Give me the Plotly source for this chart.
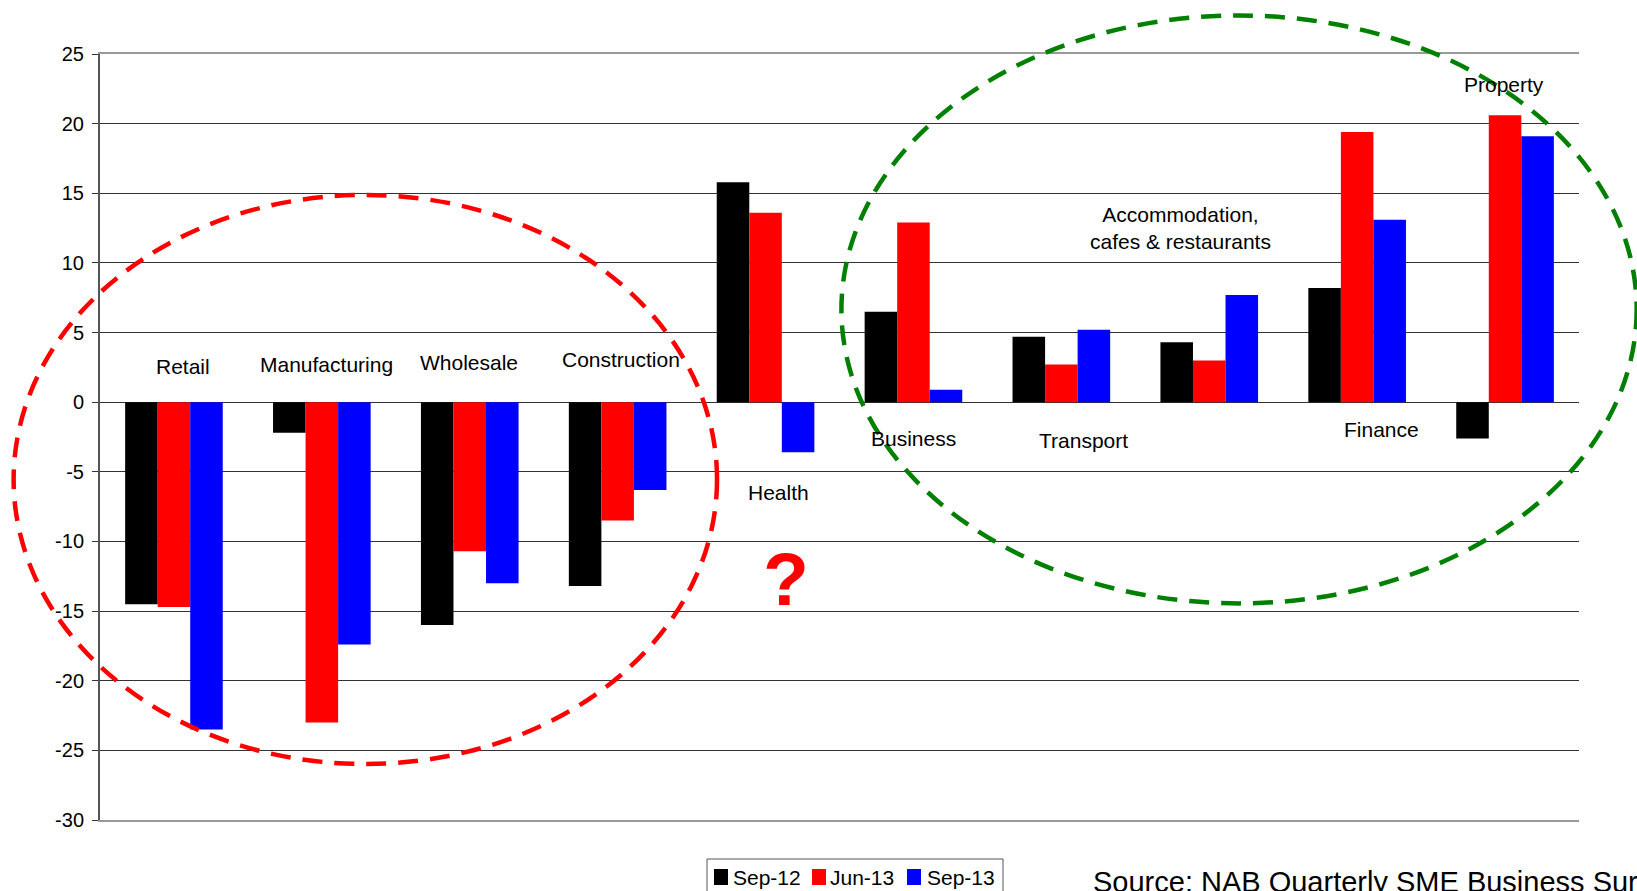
import plotly.graph_objects as go

# Industry categories (drawn as text labels next to each bar group)
industries = ["Retail", "Manufacturing", "Wholesale", "Construction", "Health",
              "Business", "Transport", "Accommodation, cafes & restaurants",
              "Finance", "Property"]

# Survey readings by quarter
sep_12 = [-14.5, -2.2, -16.0, -13.2, 15.8, 6.5, 4.7, 4.3, 8.2, -2.6]
jun_13 = [-14.7, -23.0, -10.7, -8.5, 13.6, 12.9, 2.7, 3.0, 19.4, 20.6]
sep_13 = [-23.5, -17.4, -13.0, -6.3, -3.6, 0.9, 5.2, 7.7, 13.1, 19.1]

series_names = ["Sep-12", "Jun-13", "Sep-13"]
series_colors = ["#000000", "#FF0000", "#0000FF"]

y_ticks = [25, 20, 15, 10, 5, 0, -5, -10, -15, -20, -25, -30]

# Label text and placement (category index offset, value position)
label_text = ["Retail", "Manufacturing", "Wholesale", "Construction", "Health",
              "Business", "Transport", "Accommodation,<br>cafes & restaurants",
              "Finance", "Property"]
label_x = [0.059, 1.033, 1.993, 3.024, 4.09, 5.0, 6.15, 6.808, 8.163, 8.996]
label_y = [2.56, 2.70, 2.85, 3.08, -6.52, -2.62, -2.77, 12.49, -1.94, 22.78]

FONT = "Liberation Sans, Arial, sans-serif"

# Figure geometry (pixels) used to place paper-referenced decorations
W, H = 1637, 891
ML, MR, MT, MB = 100, 58, 54, 71
PW, PH = W - ML - MR, H - MT - MB


def px_x(px):
    return (px - ML) / PW


def px_y(py):
    return (H - MB - py) / PH


fig = go.Figure()
xs = list(range(len(industries)))
for name, vals, col in zip(series_names, [sep_12, jun_13, sep_13], series_colors):
    fig.add_trace(go.Bar(
        x=xs, y=vals, name=name, marker_color=col,
        marker_line_width=0, hovertext=industries, showlegend=False,
    ))

annotations = []
for t, x, y in zip(label_text, label_x, label_y):
    annotations.append(dict(
        x=x, y=y, xref="x", yref="y", text=t, showarrow=False,
        font=dict(family=FONT, size=21, color="#000000"),
        xanchor="center", yanchor="middle",
    ))

# Question mark beside the Health group
annotations.append(dict(
    x=4.138, y=-12.7, xref="x", yref="y", text="<b>?</b>", showarrow=False,
    font=dict(family=FONT, size=75, color="#FF0000"),
    xanchor="center", yanchor="middle",
))

# Source note
annotations.append(dict(
    x=0.670, y=-0.058, xref="paper", yref="paper",
    text="Source: NAB Quarterly SME Business Survey", showarrow=False,
    font=dict(family=FONT, size=29, color="#000000"),
    xanchor="left", yanchor="top",
))

shapes = [
    # Red dashed ring around the weak sectors
    dict(type="circle", xref="paper", yref="paper",
         x0=-0.0584, x1=0.4172, y0=0.0731, y1=0.816,
         line=dict(color="#FF0000", width=4.5, dash="20px,12px"), layer="above"),
    # Green dashed ring around the strong sectors
    dict(type="circle", xref="paper", yref="paper",
         x0=0.5013, x1=1.039, y0=0.2828, y1=1.0503,
         line=dict(color="#008000", width=4.5, dash="20px,12px"), layer="above"),
]

# Compact key below the plot: framed box, colour swatch and name per series
shapes.append(dict(
    type="rect", xref="paper", yref="paper",
    x0=px_x(707), x1=px_x(1003), y0=px_y(905), y1=px_y(859),
    line=dict(color="#555555", width=1), fillcolor="#FFFFFF", layer="above",
))
key_swatch_left = [714, 812, 907]
key_text_left = [731, 828, 925]
for name, col, sx, tx in zip(series_names, series_colors, key_swatch_left, key_text_left):
    shapes.append(dict(
        type="rect", xref="paper", yref="paper",
        x0=px_x(sx), x1=px_x(sx + 14), y0=px_y(885), y1=px_y(869),
        line=dict(width=0), fillcolor=col, layer="above",
    ))
    annotations.append(dict(
        x=px_x(tx), y=px_y(877), xref="paper", yref="paper", text=name,
        showarrow=False, font=dict(family=FONT, size=21, color="#000000"),
        xanchor="left", yanchor="middle",
    ))

fig.update_layout(
    width=W, height=H,
    margin=dict(l=ML, r=MR, t=MT, b=MB, autoexpand=False),
    paper_bgcolor="#FFFFFF", plot_bgcolor="#FFFFFF",
    font=dict(family=FONT, size=20, color="#000000"),
    barmode="group", bargap=0.34, bargroupgap=0,
    showlegend=False,
    annotations=annotations,
    shapes=shapes,
)

fig.update_xaxes(
    range=[-0.5, 9.5], showticklabels=False, ticks="", showgrid=False,
    zeroline=False, showline=True, linecolor="#999999", linewidth=2, mirror=True,
)
fig.update_yaxes(
    range=[-30, 25], tickvals=y_ticks, ticktext=[str(v) for v in y_ticks],
    showgrid=True, gridcolor="#333333", gridwidth=1,
    zeroline=True, zerolinecolor="#333333", zerolinewidth=1,
    showline=True, linecolor="#555555", linewidth=2,
    ticks="outside", ticklen=6, tickcolor="#333333", tickwidth=1,
    ticklabelstandoff=4,
    tickfont=dict(family=FONT, size=20, color="#000000"),
)

fig.write_html("out.html")
